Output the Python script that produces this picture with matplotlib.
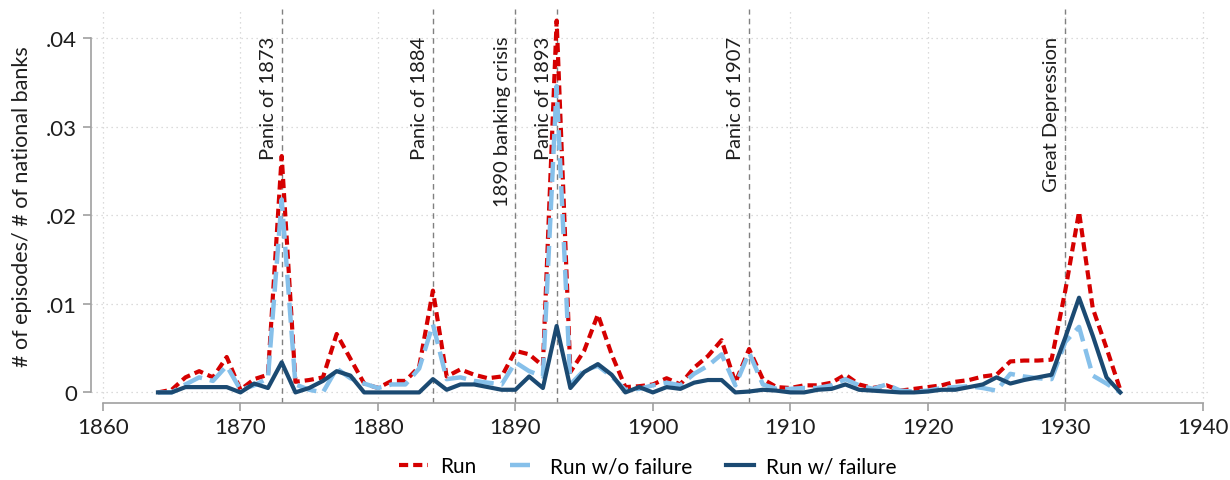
import numpy as np
import matplotlib
matplotlib.use("Agg")
import matplotlib.pyplot as plt

plt.rcParams['font.family'] = ['Lato', 'DejaVu Sans']

years = list(range(1864, 1935))

# Run (all episodes)
run = [0.0, 0.0003, 0.0017, 0.0024, 0.0017, 0.0040, 0.0003, 0.0015, 0.0020, 0.0267,
       0.0012, 0.0014, 0.0017, 0.0066, 0.0038, 0.0010, 0.0005, 0.0013, 0.0013, 0.0029,
       0.0115, 0.0018, 0.0026, 0.0020, 0.0016, 0.0018, 0.0047, 0.0043, 0.0030, 0.0420,
       0.0023, 0.0047, 0.0088, 0.0043, 0.0006, 0.0007, 0.0009, 0.0016, 0.0009, 0.0028,
       0.0041, 0.0059, 0.0011, 0.0049, 0.0015, 0.0006, 0.0005, 0.0008, 0.0008, 0.0011,
       0.0020, 0.0009, 0.0005, 0.0008, 0.0002, 0.0004, 0.0006, 0.0008, 0.0012, 0.0014,
       0.0018, 0.0020, 0.0035, 0.0036, 0.0036, 0.0037, 0.0115, 0.0204, 0.0095, 0.0050,
       0.0003]

# Run without failure
run_nofail = [0.0, 0.0, 0.0009, 0.0017, 0.0013, 0.0030, 0.0003, 0.0008, 0.0016, 0.0218,
              0.0009, 0.0003, 0.0, 0.0027, 0.0016, 0.0010, 0.0005, 0.0009, 0.0009, 0.0027,
              0.0077, 0.0015, 0.0017, 0.0013, 0.0011, 0.0009, 0.0034, 0.0024, 0.0018, 0.0346,
              0.0009, 0.0025, 0.0030, 0.0018, 0.0003, 0.0004, 0.0008, 0.0011, 0.0008, 0.0021,
              0.0030, 0.0043, 0.0008, 0.0045, 0.0009, 0.0004, 0.0004, 0.0005, 0.0005, 0.0008,
              0.0015, 0.0008, 0.0004, 0.0009, 0.0002, 0.0001, 0.0002, 0.0005, 0.0006, 0.0007,
              0.0005, 0.0002, 0.0021, 0.0018, 0.0016, 0.0015, 0.0057, 0.0074, 0.0019, 0.0010,
              0.0]

# Run with failure
run_fail = [0.0, 0.0, 0.0006, 0.0006, 0.0006, 0.0006, 0.0, 0.0010, 0.0005, 0.0034,
            0.0, 0.0005, 0.0013, 0.0024, 0.0019, 0.0, 0.0, 0.0, 0.0, 0.0,
            0.0015, 0.0003, 0.0009, 0.0009, 0.0006, 0.0003, 0.0003, 0.0018, 0.0005, 0.0075,
            0.0005, 0.0023, 0.0032, 0.0020, 0.0, 0.0006, 0.0, 0.0006, 0.0004, 0.0011,
            0.0014, 0.0014, 0.0, 0.0001, 0.0003, 0.0002, 0.0, 0.0, 0.0003, 0.0004,
            0.0009, 0.0003, 0.0002, 0.0001, 0.0, 0.0, 0.0001, 0.0003, 0.0003, 0.0006,
            0.0009, 0.0017, 0.0010, 0.0014, 0.0017, 0.0020, 0.0062, 0.0107, 0.0064, 0.0017,
            0.0]

events = [1873, 1884, 1890, 1893, 1907, 1930]
event_labels = ["Panic of 1873", "Panic of 1884", "1890 banking crisis",
                "Panic of 1893", "Panic of 1907", "Great Depression"]

xticks = [1860, 1870, 1880, 1890, 1900, 1910, 1920, 1930, 1940]
yticks = [0, 0.01, 0.02, 0.03, 0.04]
ytick_labels = ["0", ".01", ".02", ".03", ".04"]

red = '#d50000'
light = '#86c0ea'
navy = '#1b4a72'
axcol = '#a0a0a0'
txt = '#1e1e1e'

fig = plt.figure(figsize=(12.3, 4.81), dpi=100)
ax = fig.add_axes([0.074, 0.160, 0.910, 0.819])

# grid
for t in xticks:
    ax.axvline(t, color='#d0d0d0', lw=0.9, ls=(0, (1, 3)), zorder=0)
for t in yticks:
    ax.axhline(t, color='#d0d0d0', lw=0.9, ls=(0, (1, 3)), zorder=0)

# event lines + labels
for yr, lab in zip(events, event_labels):
    ax.axvline(yr, color='#808080', lw=1.0, ls=(0, (4, 3)), zorder=1)
    ax.text(yr - 0.35, 0.0403, lab, rotation=90, ha='right', va='top',
            fontsize=14.5, color=txt, zorder=5)

ax.plot(years, run, color=red, lw=3.0, ls=(0, (2.2, 1.2)), label='Run', zorder=3)
ax.plot(years, run_nofail, color=light, lw=3.2, ls=(0, (4.5, 1.8)),
        label='Run w/o failure', zorder=3.5)
ax.plot(years, run_fail, color=navy, lw=3.0, label='Run w/ failure', zorder=4)

ax.set_xlim(1859.13, 1940.55)
ax.set_ylim(-0.0012, 0.0433)
ax.set_xticks(xticks)
ax.set_yticks(yticks)
ax.set_yticklabels(ytick_labels)

for s in ['top', 'right']:
    ax.spines[s].set_visible(False)
ax.spines['left'].set_bounds(0, 0.04)
ax.spines['bottom'].set_bounds(1860, 1940)
ax.spines['left'].set_color(axcol)
ax.spines['bottom'].set_color(axcol)
ax.spines['left'].set_linewidth(1.2)
ax.spines['bottom'].set_linewidth(1.2)
ax.tick_params(axis='both', colors=axcol, length=6, width=1.2, labelsize=16,
               labelcolor=txt)
ax.tick_params(axis='y', pad=4)
ax.tick_params(axis='x', pad=4)

ax.set_ylabel('# of episodes/ # of national banks', fontsize=15.5, color=txt,
              labelpad=10)

fig.legend(loc='center', bbox_to_anchor=(0.527, 0.029), ncol=3, frameon=False,
           fontsize=15, handlelength=1.35, columnspacing=1.6, handletextpad=0.6)

fig.savefig('out.png', dpi=100)
